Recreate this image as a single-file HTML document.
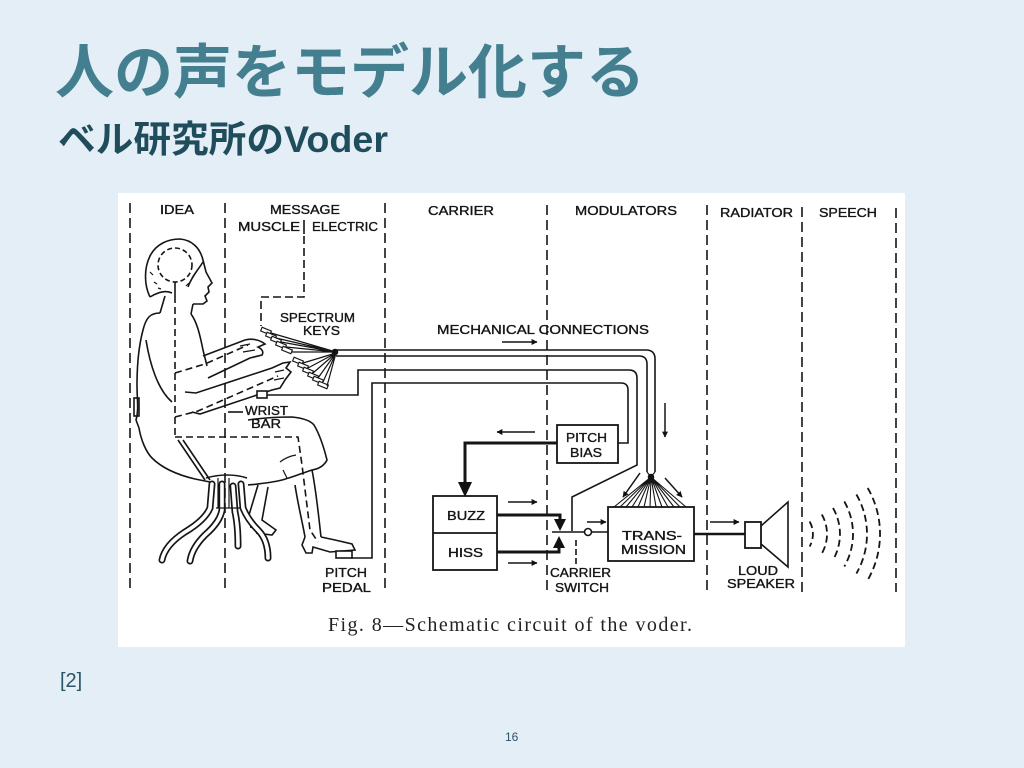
<!DOCTYPE html>
<html><head><meta charset="utf-8">
<style>
html,body{margin:0;padding:0;}
body{width:1024px;height:768px;background:#e4eef6;overflow:hidden;position:relative;}
svg{position:absolute;left:0;top:0;}
</style></head><body>
<svg width="1024" height="768" viewBox="0 0 1024 768" xmlns="http://www.w3.org/2000/svg">
<defs>
<marker id="ah" viewBox="0 0 10 10" refX="9" refY="5" markerWidth="8" markerHeight="6" markerUnits="userSpaceOnUse" orient="auto"><path d="M0,0 L10,5 L0,10 z" fill="#111"/></marker>
</defs>

<text x="55" y="93" font-family="'Liberation Sans','Noto Sans CJK JP',sans-serif" font-size="59" font-weight="bold" fill="#437f8f">人の声をモデル化する</text>
<text x="58" y="152" font-family="'Liberation Sans','Noto Sans CJK JP',sans-serif" font-size="37" font-weight="bold" fill="#1f4d5b" textLength="330" lengthAdjust="spacingAndGlyphs">ベル研究所のVoder</text>

<rect x="118" y="193" width="787" height="454" fill="#ffffff"/>

<g stroke="#151515" stroke-width="1.6" fill="none">
  <g stroke-dasharray="10 5">
    <line x1="130" y1="203" x2="130" y2="590"/>
    <line x1="225" y1="203" x2="225" y2="592"/>
    <line x1="385" y1="203" x2="385" y2="592"/>
    <line x1="547" y1="205" x2="547" y2="592"/>
    <line x1="707" y1="205" x2="707" y2="592"/>
    <line x1="802" y1="207" x2="802" y2="592"/>
    <line x1="896" y1="208" x2="896" y2="592"/>
  </g>

  <line x1="304" y1="220" x2="304" y2="234"/>
  <path d="M304,236 V297 H261 V326" stroke-dasharray="8 4"/>

  <!-- head -->
  <path d="M150,297 C144,285 144,268 150,256 C156,244 168,239 180,239 C192,240 200,248 203,260 L206,272 L212,283 L208,287 L209,292 L205,296 L207,301 L203,304 L193,304"/>
  <path d="M150,297 C158,292 166,290 172,293"/>
  <path d="M203,262 C198,270 192,276 188,287"/>
  <path d="M193,304 L191,314 M165,296 L160,313"/>
  <path d="M150,272 l3,3 M154,282 l3,2 M158,288 l3,1 M186,286 l3,-3" stroke-width="1.2"/>
  <circle cx="175" cy="265" r="17" stroke-dasharray="5 3"/>
  <line x1="175" y1="282" x2="175" y2="296"/>
  <!-- torso -->
  <path d="M160,313 C150,313 146,318 143,330 C139,345 137,365 137,385 C137,400 139,410 136,420 L139,428"/>
  <path d="M191,314 C197,322 200,335 203,350 L207,366"/>
  <path d="M146,340 C150,365 158,390 172,402"/>
  <rect x="134" y="398" width="5" height="18"/>
  <!-- upper forearm & hand -->
  <path d="M203,356 L245,340 C252,338 260,340 265,344 L258,347 C262,349 264,352 262,355 L250,358 L208,378"/>
  <path d="M240,346 L250,344 M243,352 L255,350" stroke-width="1.2"/>
  <!-- lower forearm & hand -->
  <path d="M185,392 L196,393 L272,368 L283,363 L290,362 L286,368 L291,372 L285,380 L280,388 L272,390 L200,414 L192,412"/>
  <path d="M275,372 L284,370 M274,380 L284,378" stroke-width="1.2"/>
  <!-- lap / skirt -->
  <path d="M139,428 C141,440 146,452 152,458 C162,468 178,475 195,479 L210,482"/>
  <path d="M248,420 C262,418 280,417 292,417 C302,418 310,420 314,425 C320,435 324,448 327,460 C324,466 318,469 312,470 C300,474 290,478 282,480 C270,483 258,484 248,485"/>
  <path d="M178,440 L205,480 M183,440 L210,480"/>
  <path d="M280,462 C285,458 290,456 296,455 M283,470 L287,478" stroke-width="1.2"/>
  <!-- front leg -->
  <path d="M312,470 C316,490 318,510 321,537"/>
  <path d="M295,485 C298,505 302,520 305,537"/>
  <path d="M305,537 L302,545 L306,553 L312,553 L313,547 L330,552 L355,550 L352,544 L335,540 L321,537"/>
  <rect x="336" y="551" width="16" height="7" fill="#fff"/>
  <!-- back leg -->
  <path d="M258,485 L249,515 L251,528 M268,487 L262,520 L276,530 L272,535 L256,533"/>
  <!-- nerve dashes -->
  <g stroke-dasharray="7 4">
    <line x1="175" y1="296" x2="175" y2="437"/>
    <path d="M175,373 L205,364 L248,345"/>
    <path d="M175,417 L198,411 L278,376"/>
    <path d="M175,437 H298 L302,465 L310,530 L318,542"/>
  </g>
  <line x1="228" y1="412" x2="243" y2="412"/>

  <!-- stool -->
  <path d="M206,478 C220,474 235,474 247,478"/>
  <g stroke-width="7" stroke-linecap="round">
    <path d="M212,484 L210,508 Q205,520 185,532 Q165,545 162,560"/>
    <path d="M222,484 L222,510 Q220,522 205,535 Q192,548 190,561"/>
    <path d="M233,486 L235,512 Q238,525 238,546"/>
    <path d="M241,484 L243,508 Q248,520 258,530 Q268,540 268,558"/>
  </g>
  <g stroke="#fff" stroke-width="3.6" stroke-linecap="round">
    <path d="M212,484 L210,508 Q205,520 185,532 Q165,545 162,560"/>
    <path d="M222,484 L222,510 Q220,522 205,535 Q192,548 190,561"/>
    <path d="M233,486 L235,512 Q238,525 238,546"/>
    <path d="M241,484 L243,508 Q248,520 258,530 Q268,540 268,558"/>
  </g>
  <path d="M218,478 V508 M229,478 V508 M216,508 H240" stroke-width="1.2"/>

  <!-- keys -->
  <g stroke-width="1.1" fill="#fff">
    <rect x="-5" y="-2" width="10" height="4" transform="translate(266,331) rotate(22)"/>
    <rect x="-5" y="-2" width="10" height="4" transform="translate(271,336) rotate(22)"/>
    <rect x="-5" y="-2" width="10" height="4" transform="translate(276,340) rotate(22)"/>
    <rect x="-5" y="-2" width="10" height="4" transform="translate(281,345) rotate(22)"/>
    <rect x="-5" y="-2" width="10" height="4" transform="translate(287,350) rotate(22)"/>
    <rect x="-5" y="-2" width="10" height="4" transform="translate(298,361) rotate(22)"/>
    <rect x="-5" y="-2" width="10" height="4" transform="translate(303,366) rotate(22)"/>
    <rect x="-5" y="-2" width="10" height="4" transform="translate(308,371) rotate(22)"/>
    <rect x="-5" y="-2" width="10" height="4" transform="translate(313,376) rotate(22)"/>
    <rect x="-5" y="-2" width="10" height="4" transform="translate(318,380) rotate(22)"/>
    <rect x="-5" y="-2" width="10" height="4" transform="translate(323,385) rotate(22)"/>
  </g>
  <g stroke-width="1.2">
    <path d="M271,333 L336,352 M276,338 L336,352 M281,342 L336,352 M286,347 L336,352 M292,352 L336,352"/>
    <path d="M303,363 L336,353 M308,368 L336,353 M313,373 L336,353 M318,378 L336,353 M323,382 L336,353 M327,386 L336,353"/>
  </g>
  <circle cx="335" cy="352" r="2.5" fill="#111"/>

  <!-- mechanical connections -->
  <path d="M336,350 H646 Q655,350 655,359 V472"/>
  <path d="M336,356 H639 Q647,356 647,364 V472"/>
  <rect x="257" y="391" width="10" height="7" fill="#fff"/>
  <path d="M267,395 H358 V370 H629 Q637,370 637,378 V465 L572,497 V531"/>
  <path d="M351,558 H372 V383 H621 Q628,383 628,390 V443 H618"/>
  <g stroke-width="1.1">
    <path d="M655,472 L651,477 M647,472 L651,477"/>
    <path d="M651,477 L614,507 M651,477 L620,507 M651,477 L626,507 M651,477 L632,507 M651,477 L638,507 M651,477 L644,507 M651,477 L650,507 M651,477 L656,507 M651,477 L662,507 M651,477 L668,507 M651,477 L674,507 M651,477 L680,507 M651,477 L686,507"/>
  </g>
  <circle cx="651" cy="477" r="2.5" fill="#111"/>

  <g stroke-width="1.5">
    <line x1="502" y1="342" x2="537" y2="342" marker-end="url(#ah)"/>
    <line x1="665" y1="403" x2="665" y2="437" marker-end="url(#ah)"/>
    <line x1="640" y1="473" x2="623" y2="497" marker-end="url(#ah)"/>
    <line x1="665" y1="478" x2="682" y2="497" marker-end="url(#ah)"/>
    <line x1="535" y1="432" x2="497" y2="432" marker-end="url(#ah)"/>
    <line x1="508" y1="502" x2="537" y2="502" marker-end="url(#ah)"/>
    <line x1="508" y1="563" x2="537" y2="563" marker-end="url(#ah)"/>
    <line x1="587" y1="522" x2="606" y2="522" marker-end="url(#ah)"/>
    <line x1="710" y1="522" x2="739" y2="522" marker-end="url(#ah)"/>
  </g>

  <rect x="557" y="425" width="61" height="38" stroke-width="1.8"/>
  <rect x="433" y="496" width="64" height="74" stroke-width="1.8"/>
  <line x1="433" y1="533" x2="497" y2="533" stroke-width="1.8"/>
  <rect x="608" y="507" width="86" height="54" stroke-width="1.8" fill="#fff"/>

  <path d="M557,443 H465 V484" stroke-width="3"/>
  <path d="M458,482 L472,482 L465,497 z" fill="#111" stroke="none"/>
  <path d="M497,515 H560 V521" stroke-width="3"/>
  <path d="M554,519 L566,519 L560,531 z" fill="#111" stroke="none"/>
  <path d="M497,552 H559 V546" stroke-width="3"/>
  <path d="M553,548 L565,548 L559,536 z" fill="#111" stroke="none"/>

  <path d="M552,532 H584.5"/>
  <circle cx="588" cy="532" r="3.5" fill="#fff"/>
  <path d="M591.5,532 H608"/>
  <line x1="576" y1="540" x2="576" y2="565" stroke-dasharray="6 3"/>

  <line x1="694" y1="534" x2="745" y2="534" stroke-width="2.6"/>
  <rect x="745" y="522" width="16" height="26" stroke-width="1.8" fill="#fff"/>
  <path d="M761,526 L788,502 L788,567 L761,544" stroke-width="1.6"/>

  <g stroke-dasharray="7 4" stroke-width="1.8">
    <path d="M809.6,521.5 A25,25 0 0 1 809.6,546.5"/>
    <path d="M821.8,514.5 A39,39 0 0 1 821.8,553.5"/>
    <path d="M833,508 A52,52 0 0 1 833,560"/>
    <path d="M844.3,501.5 A65,65 0 0 1 844.3,566.5"/>
    <path d="M856.4,494.5 A79,79 0 0 1 856.4,573.5"/>
    <path d="M867.7,488 A92,92 0 0 1 867.7,580"/>
  </g>
</g>

<g font-family="'Liberation Sans',sans-serif" font-size="12.5" fill="#151515" stroke="#151515" stroke-width="0.35">
  <text x="160" y="214" textLength="34" lengthAdjust="spacingAndGlyphs">IDEA</text>
  <text x="270" y="214" textLength="70" lengthAdjust="spacingAndGlyphs">MESSAGE</text>
  <text x="238" y="231" textLength="62" lengthAdjust="spacingAndGlyphs">MUSCLE</text>
  <text x="312" y="231" textLength="66" lengthAdjust="spacingAndGlyphs">ELECTRIC</text>
  <text x="428" y="215" textLength="66" lengthAdjust="spacingAndGlyphs">CARRIER</text>
  <text x="575" y="215" textLength="102" lengthAdjust="spacingAndGlyphs">MODULATORS</text>
  <text x="720" y="217" textLength="73" lengthAdjust="spacingAndGlyphs">RADIATOR</text>
  <text x="819" y="217" textLength="58" lengthAdjust="spacingAndGlyphs">SPEECH</text>
  <text x="280" y="322" textLength="75" lengthAdjust="spacingAndGlyphs">SPECTRUM</text>
  <text x="303" y="335" textLength="37" lengthAdjust="spacingAndGlyphs">KEYS</text>
  <text x="437" y="334" textLength="212" lengthAdjust="spacingAndGlyphs">MECHANICAL CONNECTIONS</text>
  <text x="245" y="415" textLength="43" lengthAdjust="spacingAndGlyphs">WRIST</text>
  <text x="251" y="428" textLength="30" lengthAdjust="spacingAndGlyphs">BAR</text>
  <text x="325" y="577" textLength="42" lengthAdjust="spacingAndGlyphs">PITCH</text>
  <text x="322" y="592" textLength="49" lengthAdjust="spacingAndGlyphs">PEDAL</text>
  <text x="566" y="442" textLength="41" lengthAdjust="spacingAndGlyphs">PITCH</text>
  <text x="570" y="457" textLength="32" lengthAdjust="spacingAndGlyphs">BIAS</text>
  <text x="447" y="520" textLength="38" lengthAdjust="spacingAndGlyphs">BUZZ</text>
  <text x="448" y="557" textLength="35" lengthAdjust="spacingAndGlyphs">HISS</text>
  <text x="622" y="540" textLength="60" lengthAdjust="spacingAndGlyphs">TRANS-</text>
  <text x="621" y="554" textLength="65" lengthAdjust="spacingAndGlyphs">MISSION</text>
  <text x="550" y="577" textLength="61" lengthAdjust="spacingAndGlyphs">CARRIER</text>
  <text x="555" y="592" textLength="54" lengthAdjust="spacingAndGlyphs">SWITCH</text>
  <text x="738" y="575" textLength="40" lengthAdjust="spacingAndGlyphs">LOUD</text>
  <text x="727" y="588" textLength="68" lengthAdjust="spacingAndGlyphs">SPEAKER</text>
</g>
<text x="328" y="631" font-family="'Liberation Serif',serif" font-size="20" fill="#222" textLength="364" lengthAdjust="spacing">Fig. 8—Schematic circuit of the voder.</text>

<text x="60" y="687" font-family="'Liberation Sans',sans-serif" font-size="20" fill="#2a5566">[2]</text>
<text x="505" y="741" font-family="'Liberation Sans',sans-serif" font-size="12" fill="#2a5566">16</text>
</svg>
</body></html>
